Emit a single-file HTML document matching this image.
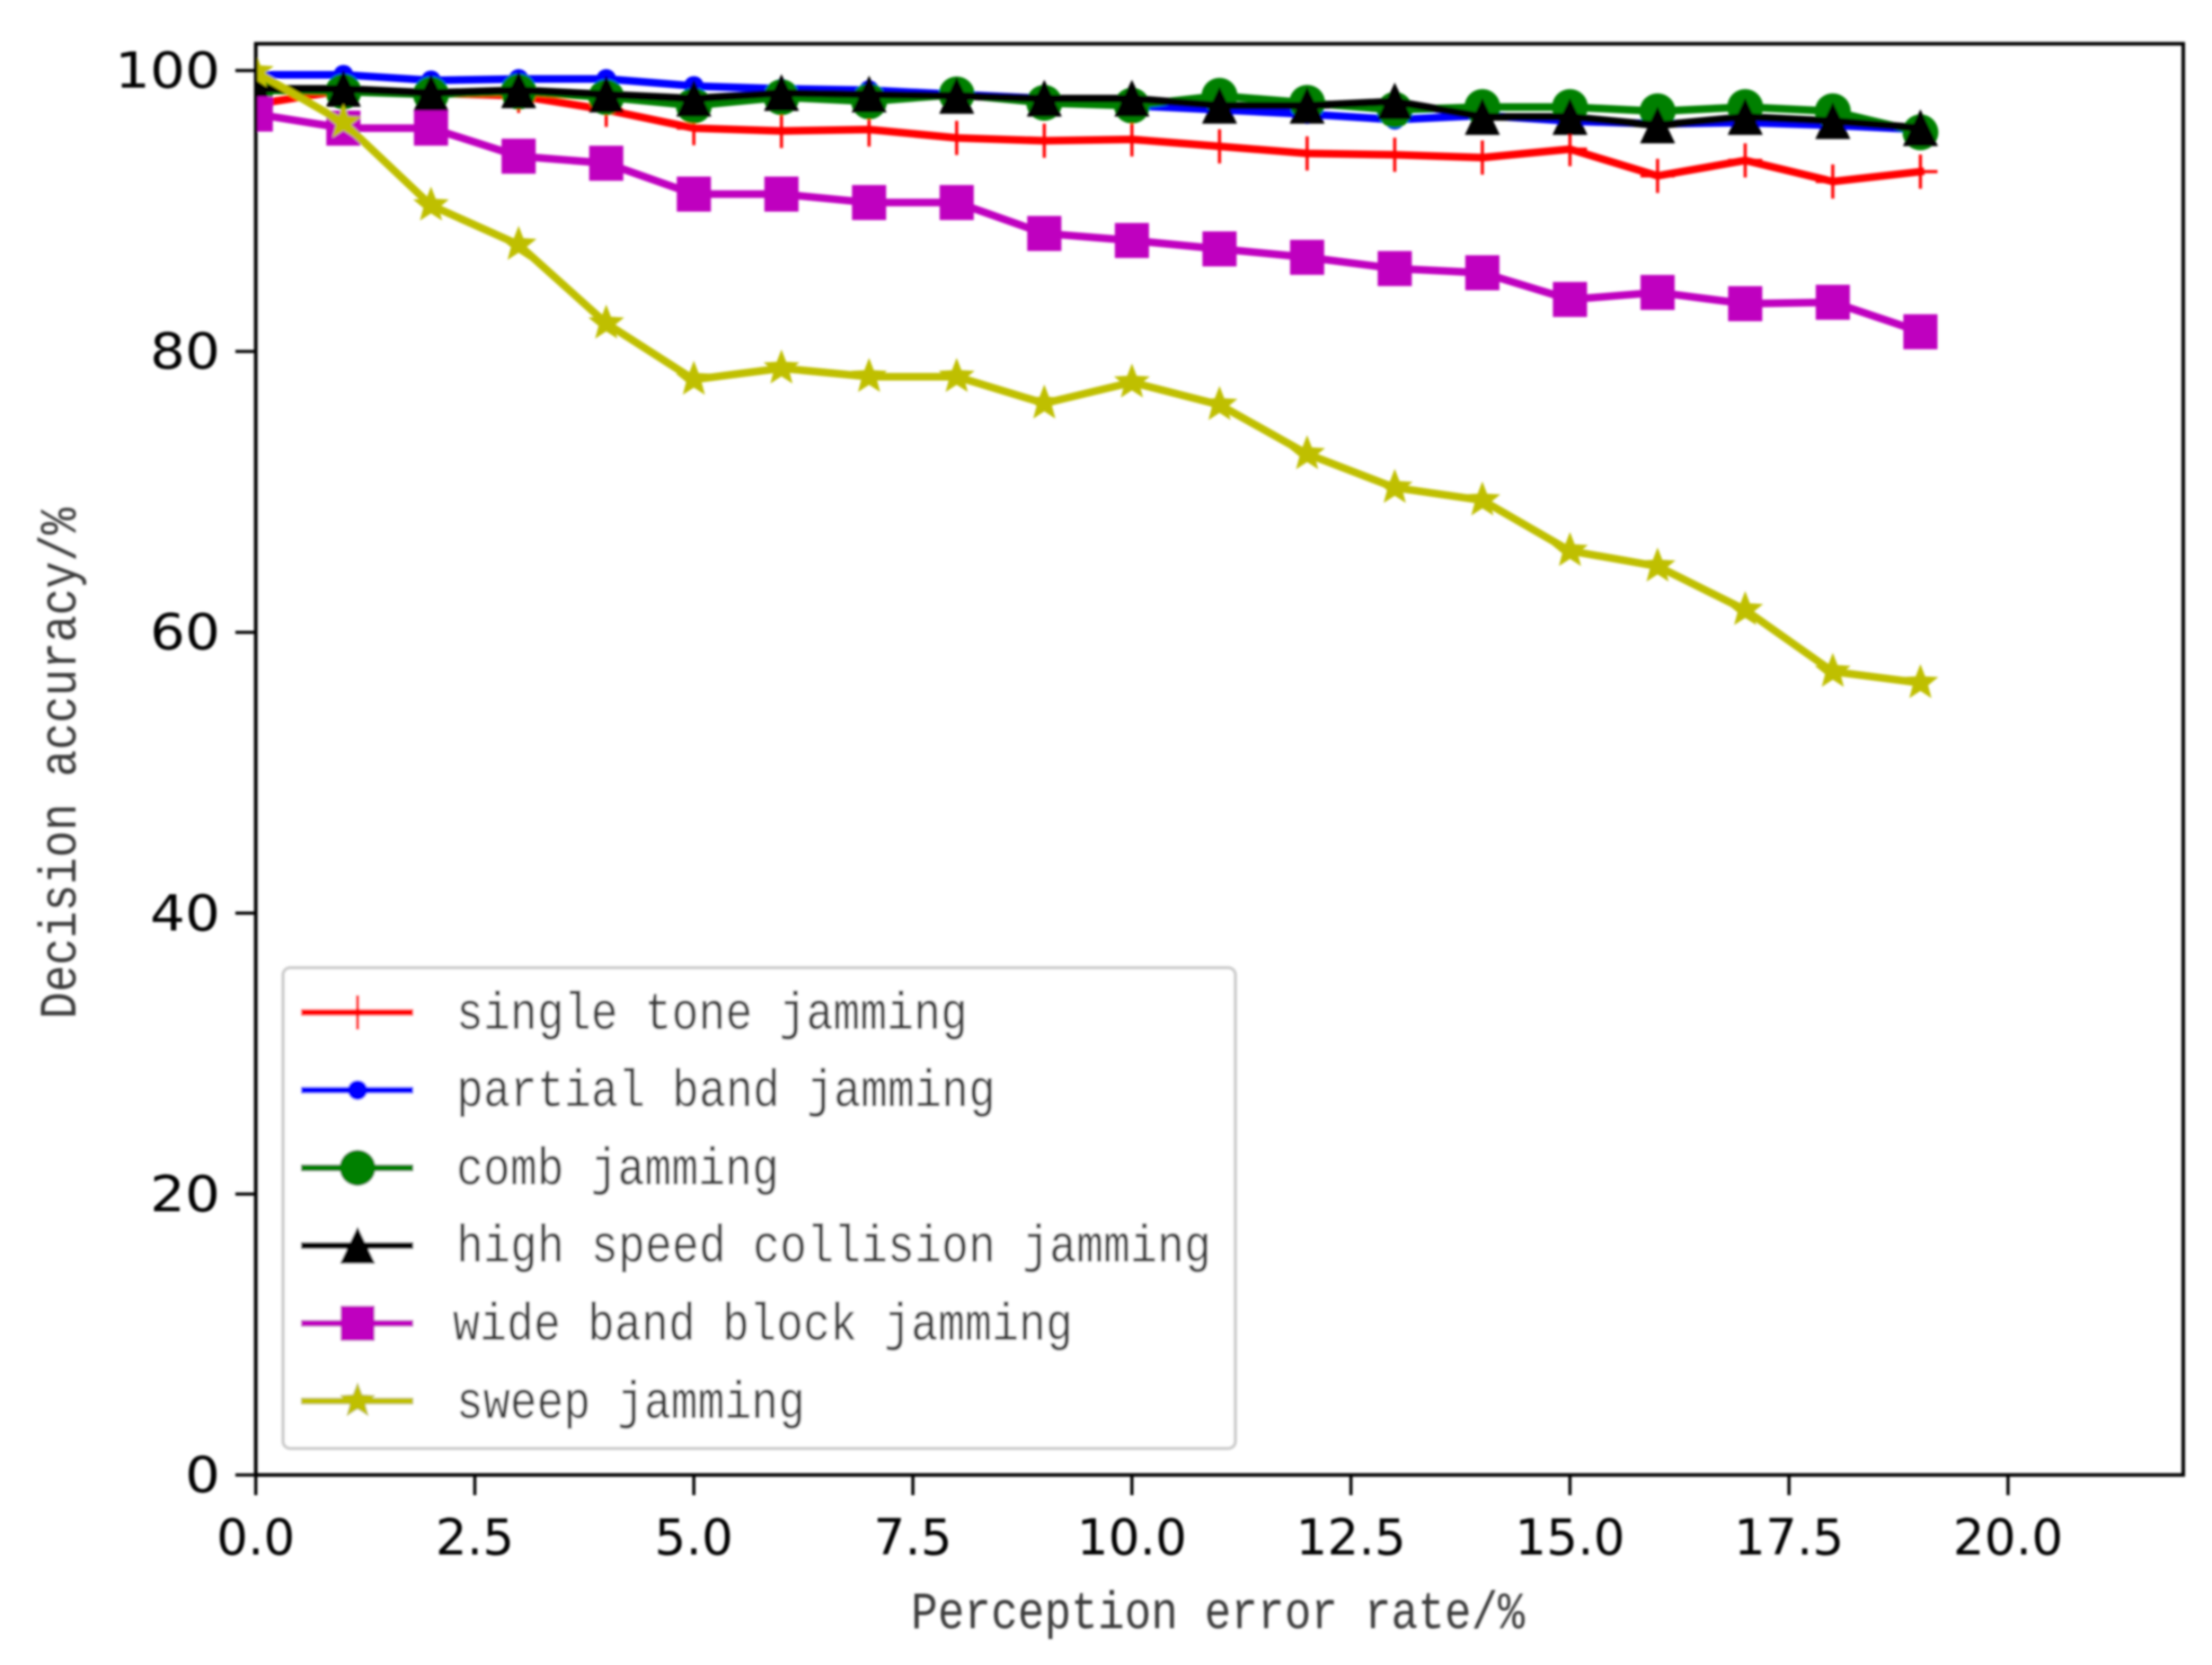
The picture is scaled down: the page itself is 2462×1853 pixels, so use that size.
<!DOCTYPE html>
<html lang="en">
<head>
<meta charset="utf-8">
<title>Decision accuracy vs perception error rate</title>
<style>
html,body{margin:0;padding:0;background:#fff;}
svg{display:block;}
.tick{font-family:"DejaVu Sans",sans-serif;font-size:55px;fill:#000;}
.song{font-family:"Liberation Mono",monospace;font-size:58px;fill:#3a3a3a;}
</style>
</head>
<body>
<svg id="chart" xmlns="http://www.w3.org/2000/svg" width="2462" height="1853" viewBox="0 0 2462 1853">
  <defs>
    <filter id="soft" x="-5%" y="-5%" width="110%" height="110%"><feGaussianBlur stdDeviation="1.3"/></filter>
    <clipPath id="plot-clip"><rect x="284.7" y="48.7" width="2145.3" height="1592.8"/></clipPath>
  </defs>
  <rect x="0" y="0" width="2462" height="1853" fill="#fff"/>
  <g id="root" filter="url(#soft)">
    <g id="series-layer" clip-path="url(#plot-clip)"></g>
    <g id="tick-layer"></g>
    <rect x="284.7" y="48.7" width="2145.3" height="1592.8" fill="none" stroke="#000" stroke-width="4"/>
    <text class="song" x="1014" y="1812" textLength="683" lengthAdjust="spacingAndGlyphs">Perception error rate/%</text>
    <text class="song" transform="translate(84,1134) rotate(-90)" x="0" y="0" textLength="569" lengthAdjust="spacingAndGlyphs">Decision accuracy/%</text>
    <g>
      <rect x="315" y="1077" width="1060" height="535" rx="8" ry="8" fill="#fff" fill-opacity="0.8" stroke="#ccc" stroke-width="3.5"/>
      <g id="legend-swatches"></g>
      <text class="song" x="508" y="1145" textLength="569" lengthAdjust="spacingAndGlyphs">single tone jamming</text>
      <text class="song" x="508" y="1231" textLength="600" lengthAdjust="spacingAndGlyphs">partial band jamming</text>
      <text class="song" x="508" y="1318" textLength="359" lengthAdjust="spacingAndGlyphs">comb jamming</text>
      <text class="song" x="508" y="1404" textLength="840" lengthAdjust="spacingAndGlyphs">high speed collision jamming</text>
      <text class="song" x="504" y="1491" textLength="690" lengthAdjust="spacingAndGlyphs">wide band block jamming</text>
      <text class="song" x="508" y="1578" textLength="388" lengthAdjust="spacingAndGlyphs">sweep jamming</text>
    </g>
  </g>
</svg>
<script>
// Chart data
const errorRates = [0,1,2,3,4,5,6,7,8,9,10,11,12,13,14,15,16,17,18,19];
const singleTone = [97.6,98.6,98.4,98.2,97.2,95.9,95.7,95.8,95.2,95.0,95.1,94.6,94.1,94.0,93.8,94.4,92.5,93.6,92.1,92.8];
const partialBand = [99.7,99.7,99.3,99.4,99.4,98.9,98.7,98.6,98.3,98.0,97.5,97.2,96.9,96.5,96.8,96.4,96.2,96.3,96.1,95.8];
const comb = [98.6,98.5,98.3,98.5,98.1,97.5,98.1,97.8,98.3,97.7,97.5,98.2,97.7,97.2,97.4,97.4,97.1,97.4,97.1,95.6];
const highSpeed = [98.7,98.7,98.4,98.6,98.3,98.0,98.4,98.3,98.2,98.0,98.0,97.5,97.5,97.8,96.7,96.7,96.1,96.7,96.4,95.9];
const wideBand = [96.9,95.9,95.9,93.9,93.4,91.2,91.2,90.6,90.6,88.4,87.9,87.3,86.7,85.9,85.6,83.7,84.2,83.4,83.5,81.4];
const sweep = [99.9,96.3,90.4,87.6,82.0,78.0,78.8,78.2,78.2,76.3,77.8,76.2,72.7,70.3,69.4,65.8,64.7,61.6,57.2,56.4];
const xTicks = [0,2.5,5,7.5,10,12.5,15,17.5,20];
const xTickLabels = ["0.0","2.5","5.0","7.5","10.0","12.5","15.0","17.5","20.0"];
const yTicks = [0,20,40,60,80,100];
const yTickLabels = ["0","20","40","60","80","100"];

const SVG_NS = "http://www.w3.org/2000/svg";
function xPos(v){ return 284.7 + v * (2145.3 / 22); }
function yPos(v){ return 1641.5 - v * 15.63; }
function mk(tag, attrs, parent){
  const n = document.createElementNS(SVG_NS, tag);
  for (const k in attrs) n.setAttribute(k, attrs[k]);
  parent.appendChild(n);
  return n;
}
function starPath(cx, cy, R, r){
  let d = "";
  for (let i = 0; i < 10; i++){
    const rad = i % 2 ? r : R;
    const a = -Math.PI / 2 + i * Math.PI / 5;
    d += (i ? "L" : "M") + (cx + rad * Math.cos(a)).toFixed(2) + " " + (cy + rad * Math.sin(a)).toFixed(2);
  }
  return d + "Z";
}
function drawMarker(kind, color, cx, cy, parent){
  if (kind === "plus") {
    return mk("path", {d:"M"+(cx-19)+" "+cy+"H"+(cx+19)+"M"+cx+" "+(cy-19)+"V"+(cy+19), stroke:color, "stroke-width":3.5, fill:"none"}, parent);
  }
  if (kind === "point") return mk("circle", {cx:cx, cy:cy, r:11, fill:color}, parent);
  if (kind === "circle") return mk("circle", {cx:cx, cy:cy, r:20, fill:color}, parent);
  if (kind === "triangle") {
    return mk("path", {d:"M"+cx+" "+(cy-21)+"L"+(cx+19.5)+" "+(cy+20)+"H"+(cx-19.5)+"Z", fill:color}, parent);
  }
  if (kind === "square") return mk("rect", {x:cx-19, y:cy-19.5, width:38, height:39, fill:color}, parent);
  return mk("path", {d:starPath(cx, cy, 21, 9), fill:color}, parent);
}

const seriesLayer = document.getElementById("series-layer");

function drawSeries(name, values, color, kind){
  const g = mk("g", {}, seriesLayer);
  
  
  const line = mk("polyline", {
    points: values.map(function(v, i){ return xPos(errorRates[i]).toFixed(2) + "," + yPos(v).toFixed(2); }).join(" "),
    fill: "none", stroke: color, "stroke-width": 8.5, "stroke-linejoin": "round", "stroke-linecap": "square"
  }, g);
  
  
  values.forEach(function(v, i){
    const m = drawMarker(kind, color, xPos(errorRates[i]), yPos(v), g);
    
    
  });
}
drawSeries("single-tone", singleTone, "#ff0000", "plus");
drawSeries("partial-band", partialBand, "#0000ff", "point");
drawSeries("comb", comb, "#008000", "circle");
drawSeries("high-speed-collision", highSpeed, "#000000", "triangle");
drawSeries("wide-band-block", wideBand, "#bf00bf", "square");
drawSeries("sweep", sweep, "#bfbf00", "star");

const tickLayer = document.getElementById("tick-layer");
xTicks.forEach(function(v, i){
  const x = xPos(v);
  const t = mk("line", {x1:x, x2:x, y1:1641.5, y2:1664, stroke:"#000", "stroke-width":3.5}, tickLayer);
  
  
  const l = mk("text", {x:x, y:1730, "text-anchor":"middle", "class":"tick"}, tickLayer);
  l.textContent = xTickLabels[i];
  
  
});
yTicks.forEach(function(v, i){
  const y = yPos(v);
  const t = mk("line", {x1:262, x2:284.7, y1:y, y2:y, stroke:"#000", "stroke-width":3.5}, tickLayer);
  
  
  const l = mk("text", {x:245, y:y + 19, "text-anchor":"end", "class":"tick", textLength:yTickLabels[i].length * 39, lengthAdjust:"spacingAndGlyphs"}, tickLayer);
  l.textContent = yTickLabels[i];
  
  
});

const legendSwatches = document.getElementById("legend-swatches");
const legendColors = ["#ff0000","#0000ff","#008000","#000000","#bf00bf","#bfbf00"];
const legendKinds = ["plus","point","circle","triangle","square","star"];
legendColors.forEach(function(c, i){
  const y = 1126.7 + i * 86.5;
  const sw = mk("line", {x1:335, x2:460, y1:y, y2:y, stroke:c, "stroke-width":7.5}, legendSwatches);
  
  
  const mm = drawMarker(legendKinds[i], c, 398, y, legendSwatches);
  
  
});
</script>
</body>
</html>
